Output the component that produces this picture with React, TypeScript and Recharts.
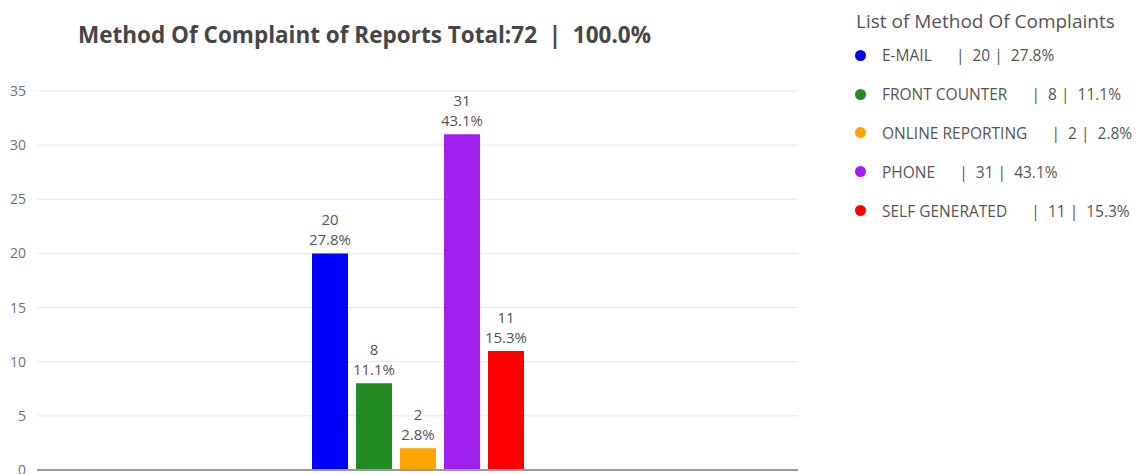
import React from "react";
import { BarChart, Bar, XAxis, YAxis, CartesianGrid, LabelList } from "recharts";

const methods = ["E-MAIL", "FRONT COUNTER", "ONLINE REPORTING", "PHONE", "SELF GENERATED"];
const counts = [20, 8, 2, 31, 11];
const percents = ["27.8%", "11.1%", "2.8%", "43.1%", "15.3%"];
const colors = ["#0000ff", "#228b22", "#ffa500", "#a020f0", "#ff0000"];
const yTicks = [0, 5, 10, 15, 20, 25, 30, 35];

const total = 72;
const totalPct = "100.0%";

// one category, each method is its own series
const row: Record<string, string | number> = { name: "Method Of Complaint" };
methods.forEach((m, i) => {
  row[m] = counts[i];
});
const data = [row];

const font = "'Open Sans', 'Noto Sans', sans-serif";

const makeLabel = (pct: string) => (props: any) => {
  const { x, y, width, value } = props;
  const cx = x + width / 2;
  return (
    <text x={cx} textAnchor="middle" fill="#555" fontSize={15} fontFamily={font}>
      <tspan x={cx} y={y - 28}>{value}</tspan>
      <tspan x={cx} y={y - 8}>{pct}</tspan>
    </text>
  );
};

const App = () => {
  return (
    <div style={{ position: "absolute", left: 0, top: 0, width: 1148, height: 474, background: "#fff", fontFamily: font }}>
      <div
        style={{
          position: "absolute",
          left: 78,
          top: 19,
          fontSize: 22.5,
          fontWeight: 700,
          color: "#464646",
          whiteSpace: "pre",
        }}
      >
        {`Method Of Complaint of Reports Total:${total}  |  ${totalPct}`}
      </div>

      <BarChart
        width={1148}
        height={474}
        data={data}
        margin={{ top: 91, right: 350, left: 0, bottom: 3 }}
        barSize={36}
        barGap={8}
      >
        <CartesianGrid vertical={false} stroke="#e0e6f1" />
        <XAxis dataKey="name" tick={false} height={1} axisLine={{ stroke: "#9a9a9a", strokeWidth: 2 }} tickLine={false} />
        <YAxis
          width={37}
          domain={[0, 35]}
          ticks={yTicks}
          interval={0}
          axisLine={false}
          tickLine={false}
          tickMargin={5}
          tick={{ fill: "#6e7079", fontSize: 14, fontFamily: font }}
        />
        {methods.map((m, i) => (
          <Bar key={m} dataKey={m} fill={colors[i]} isAnimationActive={false}>
            <LabelList dataKey={m} content={makeLabel(percents[i])} />
          </Bar>
        ))}
      </BarChart>

      <div style={{ position: "absolute", left: 856, top: 7, color: "#555" }}>
        <div style={{ fontSize: 19, height: 29, lineHeight: "28px" }}>List of Method Of Complaints</div>
        {methods.map((m, i) => (
          <div
            key={m}
            style={{ display: "flex", alignItems: "center", height: 38.8, fontSize: 15.5, whiteSpace: "pre" }}
          >
            <span
              style={{
                display: "inline-block",
                width: 11,
                height: 11,
                borderRadius: "50%",
                background: colors[i],
                marginLeft: -1,
                marginRight: 16,
              }}
            />
            <span>{`${m}      |  ${counts[i]} |  ${percents[i]}`}</span>
          </div>
        ))}
      </div>
    </div>
  );
};

export default App;
